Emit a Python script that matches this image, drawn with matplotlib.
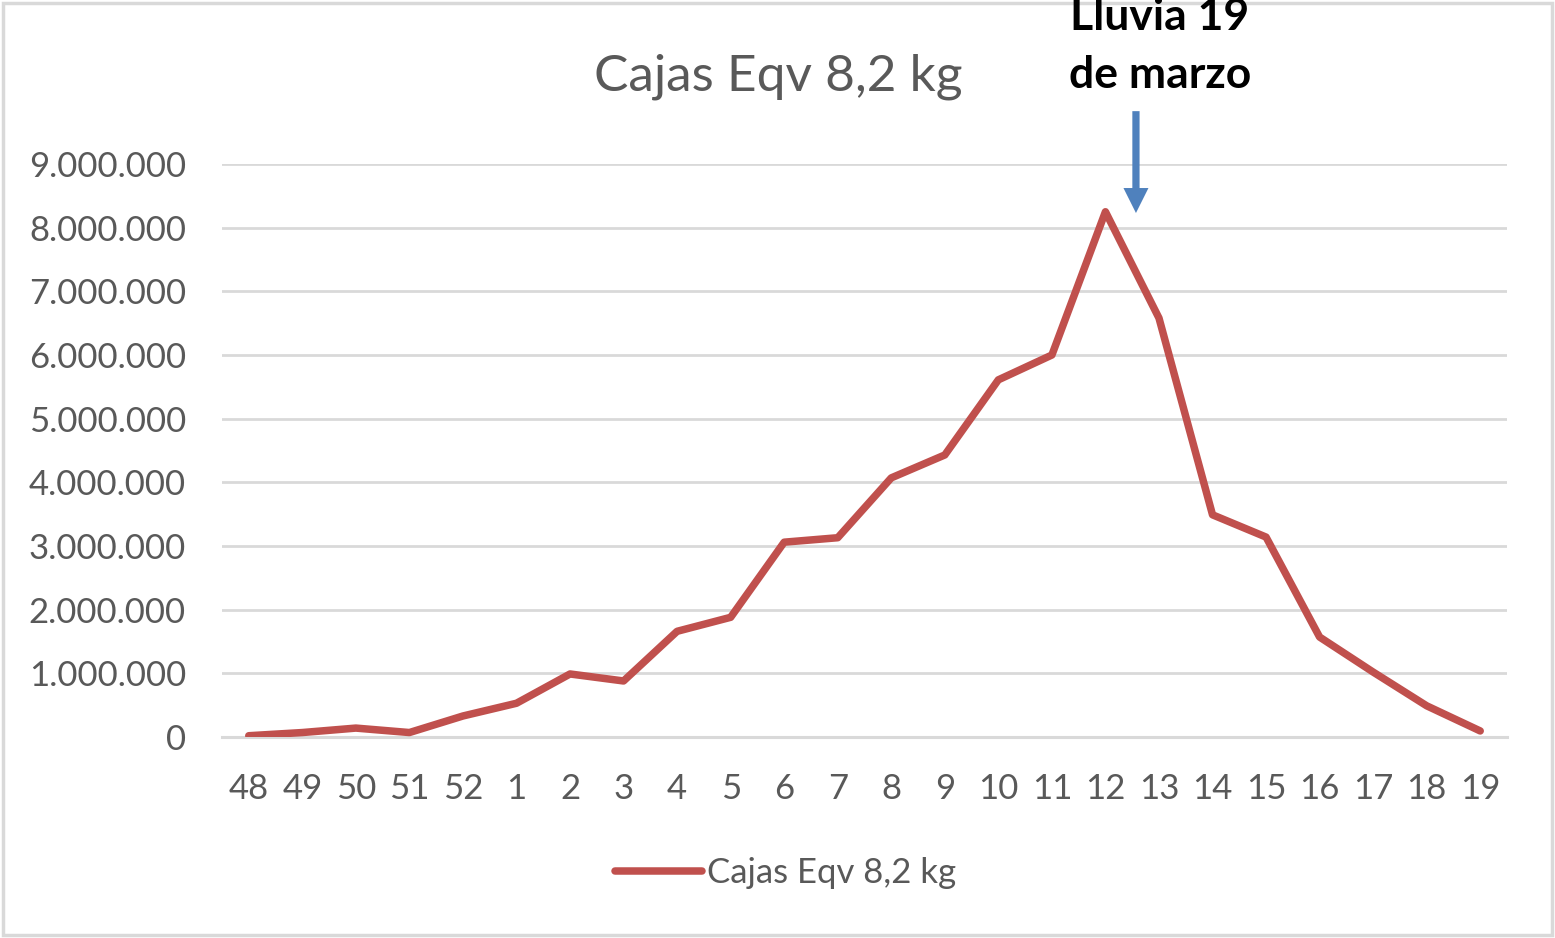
import matplotlib
matplotlib.use('Agg')
import matplotlib.pyplot as plt
import numpy as np
from matplotlib.patches import Rectangle

plt.rcParams['font.family'] = ['Lato', 'DejaVu Sans']

semanas = ['48', '49', '50', '51', '52', '1', '2', '3', '4', '5', '6', '7', '8',
           '9', '10', '11', '12', '13', '14', '15', '16', '17', '18', '19']
cajas = [20000, 70000, 140000, 70000, 330000, 530000, 990000, 880000, 1660000,
         1880000, 3060000, 3130000, 4070000, 4430000, 5610000, 6000000, 8250000,
         6580000, 3490000, 3140000, 1570000, 1020000, 490000, 95000]
yticks = [0, 1000000, 2000000, 3000000, 4000000, 5000000, 6000000, 7000000, 8000000, 9000000]
ylabels = ['0', '1.000.000', '2.000.000', '3.000.000', '4.000.000', '5.000.000',
           '6.000.000', '7.000.000', '8.000.000', '9.000.000']

W, H = 1555, 938
fig = plt.figure(figsize=(W / 100, H / 100), dpi=100)
ax = fig.add_axes([222 / W, 1 - 737 / H, (1507 - 222) / W, (737 - 164) / H])

x = np.arange(len(semanas))
ax.plot(x, cajas, color='#C0504D', linewidth=5.4, solid_capstyle='round',
        solid_joinstyle='round', label='Cajas Eqv 8,2 kg', zorder=3)

ax.set_xlim(-0.5, len(semanas) - 0.5)
ax.set_ylim(0, 9000000)
ax.set_yticks(yticks)
ax.set_yticklabels(ylabels)
ax.set_xticks(x)
ax.set_xticklabels(semanas)
ax.tick_params(axis='both', length=0, labelsize=25, labelcolor='#595959')
ax.tick_params(axis='y', pad=26)
ax.tick_params(axis='x', pad=26)
ax.grid(axis='y', color='#D9D9D9', linewidth=2)
ax.set_axisbelow(True)
for s in ['top', 'right', 'left']:
    ax.spines[s].set_visible(False)
ax.spines['bottom'].set_color('#D9D9D9')
ax.spines['bottom'].set_linewidth(2.2)

fig.text(778 / W, 1 - 77 / H, 'Cajas Eqv 8,2 kg', ha='center', va='center',
         fontsize=37, color='#595959')

fig.text(1160 / W, 1 - 46 / H, 'Lluvia 19\nde marzo', ha='center', va='center',
         fontsize=32, fontweight='bold', color='black', linespacing=1.55)

ax.annotate('', xy=(16.57, 8230000), xytext=(16.57, 9830000),
            arrowprops=dict(arrowstyle='simple,head_width=0.9,head_length=0.9,tail_width=0.26',
                            mutation_scale=20, color='#4F81BD', lw=0, shrinkA=0, shrinkB=0),
            annotation_clip=False)

leg = ax.legend(loc='center', bbox_to_anchor=(0.505, 1 - 873 / H), bbox_transform=fig.transFigure,
                frameon=False, fontsize=25, handlelength=2.5, handletextpad=0.15,
                labelcolor='#595959')

fig.patches.append(Rectangle((3 / W, 3 / H), (W - 6) / W, (H - 6) / H, transform=fig.transFigure,
                             fill=False, edgecolor='#D9D9D9', linewidth=2.5))

fig.savefig('out.png', dpi=100)
